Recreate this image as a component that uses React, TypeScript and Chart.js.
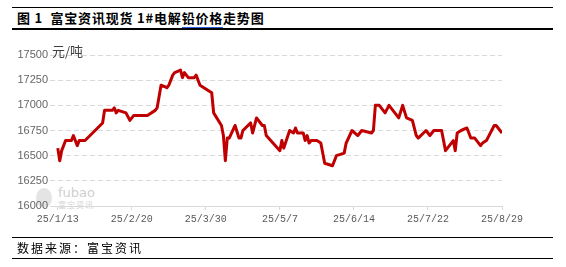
import React, { useEffect, useRef } from "react";
import { Chart, registerables } from "chart.js";

Chart.register(...registerables);

const dates: string[] = [
  "2025-01-13","2025-01-14","2025-01-15","2025-01-17","2025-01-20","2025-01-21","2025-01-23","2025-01-24","2025-01-27",
  "2025-02-05","2025-02-06","2025-02-10","2025-02-11","2025-02-12","2025-02-13","2025-02-17","2025-02-19","2025-02-21","2025-02-28",
  "2025-03-04","2025-03-05","2025-03-07","2025-03-10","2025-03-11","2025-03-13","2025-03-14","2025-03-17","2025-03-18","2025-03-19",
  "2025-03-21","2025-03-24","2025-03-25","2025-03-27","2025-03-31",
  "2025-04-02","2025-04-03","2025-04-07","2025-04-08","2025-04-09","2025-04-10","2025-04-11","2025-04-14","2025-04-16","2025-04-17",
  "2025-04-18","2025-04-22","2025-04-23","2025-04-25","2025-04-28","2025-04-29","2025-04-30",
  "2025-05-07","2025-05-08","2025-05-09","2025-05-12","2025-05-14","2025-05-15","2025-05-16","2025-05-19","2025-05-20","2025-05-21",
  "2025-05-22","2025-05-23","2025-05-26","2025-05-28","2025-05-30",
  "2025-06-03","2025-06-05","2025-06-09","2025-06-10","2025-06-13","2025-06-16","2025-06-18","2025-06-23","2025-06-24","2025-06-25",
  "2025-06-27","2025-06-30",
  "2025-07-02","2025-07-04","2025-07-07","2025-07-09","2025-07-11","2025-07-14","2025-07-16","2025-07-17","2025-07-21","2025-07-23",
  "2025-07-25","2025-07-29","2025-07-31",
  "2025-08-04","2025-08-05","2025-08-06","2025-08-08","2025-08-11","2025-08-13","2025-08-15","2025-08-18","2025-08-19","2025-08-21",
  "2025-08-25","2025-08-26","2025-08-29",
];

const prices: number[] = [
  16575,16450,16550,16650,16650,16700,16600,16650,16650,
  16825,16950,16950,16975,16925,16950,16925,16850,16900,16900,
  16950,16975,17200,17175,17200,17300,17325,17350,17275,17325,
  17275,17275,17300,17200,17150,
  17125,16925,16800,16700,16450,16675,16675,16800,16675,16675,
  16750,16825,16725,16875,16800,16800,16700,
  16550,16650,16575,16750,16725,16775,16725,16725,16650,16700,
  16625,16650,16650,16625,16425,
  16400,16500,16525,16625,16750,16700,16750,16725,16750,17000,
  17000,16925,
  17000,16950,16875,17000,16875,16850,16700,16675,16750,16700,
  16750,16750,16550,
  16650,16550,16725,16750,16775,16675,16675,16600,16625,16650,
  16800,16800,16725,
];

const tickDates: string[] = ["2025-01-13","2025-02-20","2025-03-30","2025-05-07","2025-06-14","2025-07-22","2025-08-29"];
const tickLabels: string[] = ["25/1/13","25/2/20","25/3/30","25/5/7","25/6/14","25/7/22","25/8/29"];

const yTicks: number[] = [16000, 16250, 16500, 16750, 17000, 17250, 17500];

const BASE = Date.UTC(2025, 0, 13);
const dayOf = (s: string) => {
  const [y, m, d] = s.split("-").map(Number);
  return Math.round((Date.UTC(y, m - 1, d) - BASE) / 86400000);
};

export default function App() {
  const ref = useRef<HTMLCanvasElement | null>(null);
  useEffect(() => {
    if (!ref.current) return;
    const tickVals = tickDates.map(dayOf);
    const chart = new Chart(ref.current, {
      type: "line",
      data: {
        datasets: [
          {
            data: dates.map((d, i) => ({ x: dayOf(d), y: prices[i] })),
            borderColor: "#C00000",
            borderWidth: 3,
            pointRadius: 0,
            tension: 0,
            fill: false,
            borderJoinStyle: "round",
          },
        ],
      },
      options: {
        animation: false,
        responsive: false,
        maintainAspectRatio: false,
        layout: { padding: { left: 0, right: 64, top: 55, bottom: 39 } },
        plugins: { legend: { display: false }, tooltip: { enabled: false }, title: { display: false } },
        scales: {
          x: {
            type: "linear",
            min: -4,
            max: tickVals[tickVals.length - 1],
            afterBuildTicks: (scale: any) => {
              scale.ticks = tickVals.map((v) => ({ value: v }));
            },
            afterFit: (scale: any) => {
              scale.height = 22;
            },
            ticks: {
              autoSkip: false,
              maxRotation: 0,
              padding: 3,
              color: "#595959",
              font: { family: "'Liberation Mono', monospace", size: 10 },
              callback: (v: any) => {
                const i = tickVals.indexOf(Number(v));
                return i >= 0 ? tickLabels[i] : "";
              },
            },
            grid: { drawOnChartArea: false, drawTicks: true, tickLength: 4, color: "#d9d9d9" },
            border: { display: true, color: "#d9d9d9", width: 1 },
          },
          y: {
            min: 16000,
            max: 17500,
            afterBuildTicks: (scale: any) => {
              scale.ticks = yTicks.map((v) => ({ value: v }));
            },
            afterFit: (scale: any) => {
              scale.width = 50;
            },
            ticks: {
              padding: 2,
              color: "#666666",
              font: { family: "'Liberation Sans', Arial, sans-serif", size: 11 },
              callback: (v: any) => String(v),
            },
            grid: { color: "#d9d9d9", drawTicks: false, lineWidth: 1 },
            border: { display: false, dash: [5, 3] },
          },
        },
      },
    });
    return () => chart.destroy();
  }, []);

  const cjk = "'Noto Sans CJK SC', sans-serif";
  return (
    <div style={{ position: "absolute", left: 0, top: 0, width: 566, height: 267, background: "#fff", overflow: "hidden" }}>
      <div style={{ position: "absolute", left: 12, top: 7, width: 541, height: 1, background: "#000" }} />
      <div style={{ position: "absolute", left: 17, top: 9, height: 18, lineHeight: "18px", fontFamily: cjk, fontWeight: 700, fontSize: 13, color: "#000", whiteSpace: "pre", letterSpacing: 0.8 }}>
        图 1  富宝资讯现货 1#电解<span style={{ borderBottom: "1.5px solid #2b5fd9" }}>铅价格</span>走势图
      </div>
      <div style={{ position: "absolute", left: 12, top: 28, width: 541, height: 2, background: "#000" }} />
      {/* watermark */}
      <div style={{ position: "absolute", left: 36, top: 188, width: 16, height: 20, borderRadius: "50%", background: "#e4e4e4" }} />
      <div style={{ position: "absolute", left: 58, top: 186, fontFamily: "'DejaVu Sans', sans-serif", fontSize: 13, color: "#cfcfcf", lineHeight: "14px" }}>fubao</div>
      <div style={{ position: "absolute", left: 58, top: 200, fontFamily: cjk, fontSize: 8, color: "#d4d4d4", lineHeight: "10px", letterSpacing: 1 }}>富宝资讯</div>
      <canvas ref={ref} width={566} height={267} style={{ position: "absolute", left: 0, top: 0, width: 566, height: 267 }} />
      <div style={{ position: "absolute", left: 52, top: 43, fontFamily: cjk, fontSize: 13, color: "#404040", lineHeight: "16px" }}>元/吨</div>
      <div style={{ position: "absolute", left: 12, top: 237, width: 541, height: 1, background: "#000" }} />
      <div style={{ position: "absolute", left: 17, top: 240, fontFamily: cjk, fontSize: 12, color: "#000", lineHeight: "16px", letterSpacing: 2 }}>数据来源：富宝资讯</div>
      <div style={{ position: "absolute", left: 12, top: 258, width: 541, height: 1, background: "#000" }} />
    </div>
  );
}
